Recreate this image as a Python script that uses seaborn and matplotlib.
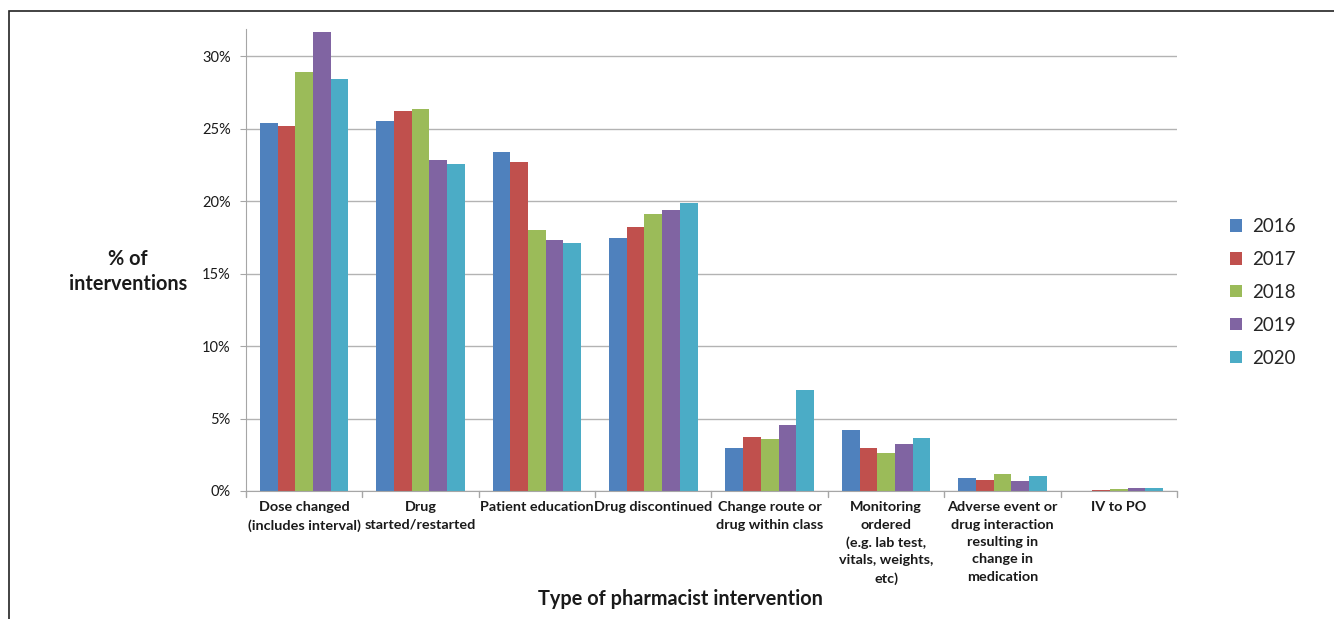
import pandas as pd
import seaborn as sns
import matplotlib.pyplot as plt
from matplotlib.patches import Rectangle

categories = ["Dose changed\n(includes interval)", "Drug\nstarted/restarted",
              "Patient education", "Drug discontinued",
              "Change route or\ndrug within class",
              "Monitoring\nordered\n(e.g. lab test,\nvitals, weights,\netc)",
              "Adverse event or\ndrug interaction\nresulting in\nchange in\nmedication",
              "IV to PO"]
years = ["2016", "2017", "2018", "2019", "2020"]
v2016 = [25.4, 25.55, 23.4, 17.5, 2.97, 4.22, 0.88, 0.02]
v2017 = [25.2, 26.25, 22.7, 18.25, 3.76, 2.95, 0.78, 0.07]
v2018 = [28.9, 26.4, 18.0, 19.1, 3.57, 2.60, 1.20, 0.12]
v2019 = [31.7, 22.85, 17.3, 19.4, 4.54, 3.23, 0.71, 0.18]
v2020 = [28.45, 22.6, 17.15, 19.85, 6.96, 3.69, 1.01, 0.21]
colors = ["#4F81BD", "#C0504D", "#9BBB59", "#8064A2", "#4BACC6"]

rows = []
for yr, vals in zip(years, [v2016, v2017, v2018, v2019, v2020]):
    for c, v in zip(categories, vals):
        rows.append({"cat": c, "year": yr, "pct": v / 100})
df = pd.DataFrame(rows)

sns.set_style("white")
plt.rcParams['font.family'] = ['Lato', 'DejaVu Sans']

fig = plt.figure(figsize=(13.34, 6.19), dpi=100)
ax = fig.add_axes([0.1844, 0.2068, 0.8823 - 0.1844, 0.9532 - 0.2068])

sns.barplot(data=df, x="cat", y="pct", hue="year", palette=colors,
            width=0.76, gap=0, saturation=1, linewidth=0, ax=ax, legend=True)

ax.set_ylim(0, 0.319)
ax.set_xlim(-0.5, len(categories) - 0.5)
ax.set_yticks([0, 0.05, 0.10, 0.15, 0.20, 0.25, 0.30])
ax.set_yticklabels(["0%", "5%", "10%", "15%", "20%", "25%", "30%"], fontsize=10.5,
                   color="#1a1a1a")
ax.yaxis.grid(True, color="#b3b3b3", lw=1)
ax.set_axisbelow(True)
for s in ["top", "right"]:
    ax.spines[s].set_visible(False)
ax.spines["left"].set_color("#a6a6a6")
ax.spines["bottom"].set_color("#a6a6a6")
ax.tick_params(axis="y", left=True, length=4, color="#a6a6a6", pad=7)

# category separators as small ticks under the axis
ax.set_xticks(range(len(categories)))
ax.set_xticklabels(categories, fontsize=10.4, fontweight="bold", va="top",
                   linespacing=1.53, color="#1a1a1a")
ax.tick_params(axis="x", bottom=False, pad=4)
for i in range(len(categories) + 1):
    ax.plot([i - 0.5, i - 0.5], [0, -0.004], color="#a6a6a6", lw=1, clip_on=False)

ax.set_xlabel("Type of pharmacist intervention", fontsize=14.3, fontweight="bold",
              color="#1a1a1a")
ax.xaxis.set_label_coords(0.467, -0.212)
ax.set_ylabel("% of\ninterventions", fontsize=14.3, fontweight="bold", rotation=0,
              ha="center", va="center", linespacing=1.3, color="#1a1a1a")
ax.yaxis.set_label_coords(-0.127, 0.475)

ax.legend(loc="center left", bbox_to_anchor=(1.057, 0.43), frameon=False, fontsize=13.5,
          borderpad=0, borderaxespad=0, handlelength=0.65, handleheight=0.65,
          handletextpad=0.5, labelspacing=0.85)

fig.patches.append(Rectangle((9 / 1334, -0.1), 1.1, 1 - 11 / 619 + 0.1,
                             transform=fig.transFigure, fill=False,
                             edgecolor="#222222", lw=1.2))

fig.savefig("out.png", dpi=100)
